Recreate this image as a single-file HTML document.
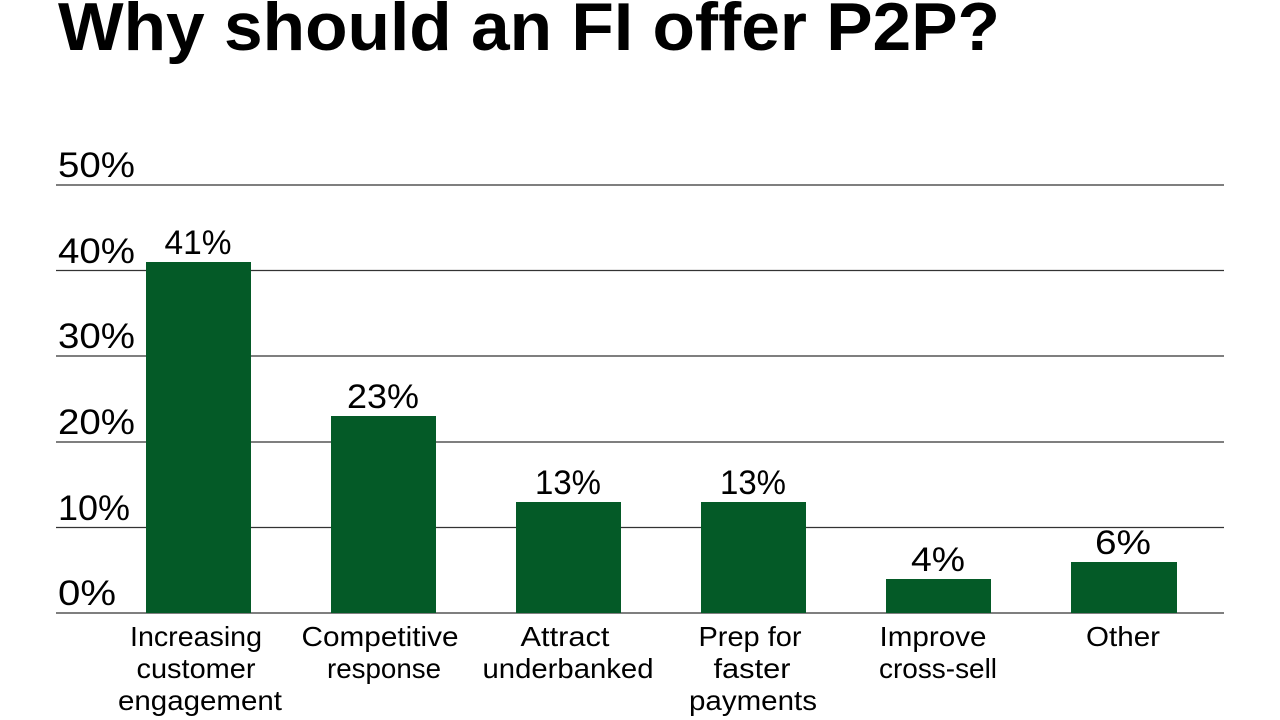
<!DOCTYPE html>
<html><head><meta charset="utf-8"><style>
html,body{margin:0;padding:0;background:#fff;width:1280px;height:720px;overflow:hidden}
text{font-family:"Liberation Sans",sans-serif;fill:#000}
</style></head><body>
<svg width="1280" height="720" xmlns="http://www.w3.org/2000/svg">
<text x="58" y="50" font-size="68" font-weight="bold" textLength="942" lengthAdjust="spacingAndGlyphs">Why should an FI offer P2P?</text>
<g stroke="#333" stroke-width="1.2">
<line x1="56" x2="1224" y1="185" y2="185"/>
<line x1="56" x2="1224" y1="270.5" y2="270.5"/>
<line x1="56" x2="1224" y1="356" y2="356"/>
<line x1="56" x2="1224" y1="442" y2="442"/>
<line x1="56" x2="1224" y1="527.5" y2="527.5"/>
<line x1="56" x2="1224" y1="613" y2="613"/>
</g>
<g font-size="35">
<text x="58" y="177" textLength="77" lengthAdjust="spacingAndGlyphs">50%</text>
<text x="58" y="263" textLength="77" lengthAdjust="spacingAndGlyphs">40%</text>
<text x="58" y="348" textLength="77" lengthAdjust="spacingAndGlyphs">30%</text>
<text x="58" y="434" textLength="77" lengthAdjust="spacingAndGlyphs">20%</text>
<text x="58" y="520" textLength="72" lengthAdjust="spacingAndGlyphs">10%</text>
<text x="58" y="605" textLength="58" lengthAdjust="spacingAndGlyphs">0%</text>
</g>
<g fill="#045a27">
<rect x="146" y="262" width="105" height="351"/>
<rect x="331" y="416" width="105" height="197"/>
<rect x="516" y="502" width="105" height="111"/>
<rect x="701" y="502" width="105" height="111"/>
<rect x="886" y="579" width="105" height="34"/>
<rect x="1071" y="562" width="106" height="51"/>
</g>
<g font-size="34" text-anchor="middle">
<text x="198" y="254" textLength="67" lengthAdjust="spacingAndGlyphs">41%</text>
<text x="383" y="408" textLength="72" lengthAdjust="spacingAndGlyphs">23%</text>
<text x="568" y="494" textLength="66" lengthAdjust="spacingAndGlyphs">13%</text>
<text x="753" y="494" textLength="66" lengthAdjust="spacingAndGlyphs">13%</text>
<text x="938" y="571" textLength="54" lengthAdjust="spacingAndGlyphs">4%</text>
<text x="1123" y="554" textLength="56" lengthAdjust="spacingAndGlyphs">6%</text>
</g>
<g font-size="28" text-anchor="middle">
<text x="196" y="646" textLength="132" lengthAdjust="spacingAndGlyphs">Increasing</text>
<text x="196" y="678" textLength="119" lengthAdjust="spacingAndGlyphs">customer</text>
<text x="200" y="710" textLength="164" lengthAdjust="spacingAndGlyphs">engagement</text>
<text x="380" y="646" textLength="157" lengthAdjust="spacingAndGlyphs">Competitive</text>
<text x="384" y="678" textLength="114" lengthAdjust="spacingAndGlyphs">response</text>
<text x="565" y="646" textLength="89" lengthAdjust="spacingAndGlyphs">Attract</text>
<text x="568" y="678" textLength="171" lengthAdjust="spacingAndGlyphs">underbanked</text>
<text x="750" y="646" textLength="103" lengthAdjust="spacingAndGlyphs">Prep for</text>
<text x="752" y="678" textLength="77" lengthAdjust="spacingAndGlyphs">faster</text>
<text x="753" y="710" textLength="128" lengthAdjust="spacingAndGlyphs">payments</text>
<text x="933" y="646" textLength="107" lengthAdjust="spacingAndGlyphs">Improve</text>
<text x="938" y="678" textLength="118" lengthAdjust="spacingAndGlyphs">cross-sell</text>
<text x="1123" y="646" textLength="74" lengthAdjust="spacingAndGlyphs">Other</text>
</g>
</svg>
</body></html>
